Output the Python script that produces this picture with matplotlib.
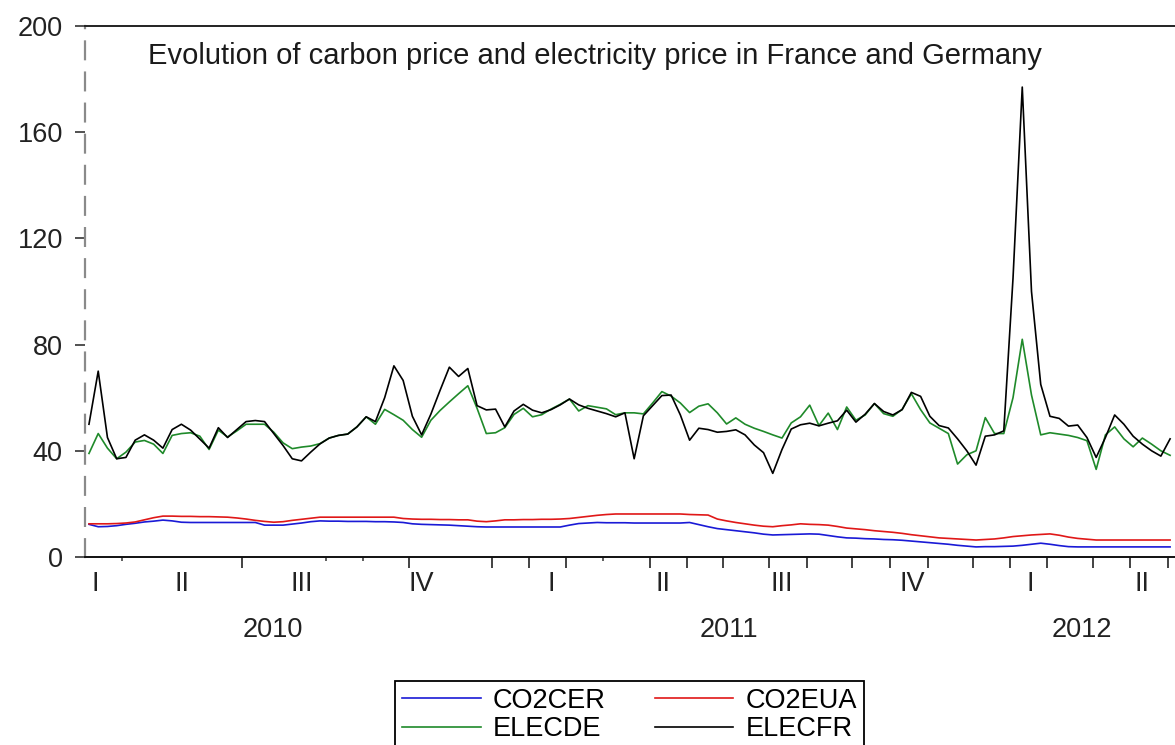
import numpy as np
import matplotlib
matplotlib.use("Agg")
import matplotlib.pyplot as plt

plt.rcParams['font.family'] = ['Liberation Sans', 'DejaVu Sans']

# weekly prices (Jan 2010 - Apr 2012)
elecfr = [50, 70, 45, 37, 37.5, 44, 46, 44, 41, 48,
          50, 47.8, 44.4, 41, 48.7, 45, 48, 51, 51.4, 51,
          46.5, 42, 37, 36.2, 39.5, 42.6, 44.8, 45.8, 46.3, 49,
          52.8, 51, 60, 72, 66.5, 53, 46, 53.8, 62.8, 71.5,
          68, 71, 57, 55.4, 55.7, 49, 55, 57.5, 55.3, 54.3,
          55.5, 57.3, 59.5, 57.3, 56, 55, 54, 52.8, 54.3, 37,
          53.2, 57, 60.8, 61, 53.5, 44, 48.5, 48, 47, 47.3,
          47.9, 46, 42.2, 39.3, 31.5, 40.5, 48.2, 49.8, 50.4, 49.4,
          50.4, 51.3, 55.3, 50.8, 53.8, 57.8, 54.8, 53.5, 55.5, 62,
          60.5, 53, 49.5, 48.6, 44.5, 40, 34.6, 45.5, 46, 47.5,
          105, 177, 100, 65, 53, 52.2, 49.3, 49.7, 45, 37.5,
          45, 53.5, 50, 45.5, 42.5, 40, 38, 44.5]

elecde = [39, 46.5, 41, 37, 39.5, 43.3, 43.9, 42.5, 39, 45.8,
          46.5, 46.8, 45.5, 40.5, 47.8, 45.2, 47.5, 50, 50, 50,
          47, 43, 40.8, 41.4, 41.8, 42.7, 44.8, 45.8, 46.3, 49,
          52.8, 50, 55.6, 53.6, 51.5, 48, 45.1, 51.5, 55.2, 58.4,
          61.5, 64.5, 56, 46.5, 46.8, 48.7, 53.7, 56, 52.8, 53.6,
          55.7, 57.5, 59.5, 55, 57, 56.4, 55.8, 53.6, 54.3, 54.3,
          53.9, 58, 62.3, 60.6, 58, 54.4, 56.8, 57.7, 54.3, 50.1,
          52.4, 50, 48.5, 47.3, 46, 44.8, 50.5, 52.8, 57.2, 49.5,
          54.2, 48, 56.5, 51.5, 53.5, 57.8, 54, 53, 55.6, 61.5,
          55.5, 50.5, 48.5, 46.5, 35, 38.5, 40, 52.5, 46.5, 46.5,
          60, 82, 61, 46, 46.8, 46.3, 45.8, 45, 43.8, 33,
          46, 49, 44.5, 41.5, 44.8, 42.5, 40, 38.3]

co2eua = [12.5, 12.5, 12.5, 12.6, 12.8, 13.2, 14, 14.8, 15.4, 15.4,
          15.3, 15.3, 15.2, 15.2, 15.1, 15, 14.7, 14.3, 13.8, 13.4,
          13.1, 13.3, 13.8, 14.2, 14.6, 15, 15, 15, 15, 15,
          15, 15, 15, 15, 14.5, 14.3, 14.2, 14.2, 14.1, 14.1,
          14, 14, 13.5, 13.3, 13.6, 14, 14, 14.1, 14.1, 14.2,
          14.2, 14.3, 14.5, 14.9, 15.3, 15.7, 16, 16.2, 16.2, 16.2,
          16.2, 16.2, 16.2, 16.2, 16.2, 16, 15.9, 15.8, 14.3, 13.6,
          13, 12.5, 12, 11.6, 11.4, 11.8, 12.1, 12.5, 12.3, 12.2,
          12, 11.5, 10.9, 10.6, 10.3, 9.9, 9.6, 9.3, 8.9, 8.4,
          8, 7.6, 7.2, 7, 6.8, 6.6, 6.4, 6.6, 6.8, 7.2,
          7.7, 8, 8.3, 8.5, 8.7, 8.2, 7.5, 7, 6.7, 6.4,
          6.4, 6.4, 6.4, 6.4, 6.4, 6.4, 6.4, 6.4]

co2cer = [12.3, 11.4, 11.5, 11.8, 12.3, 12.7, 13.2, 13.5, 13.9, 13.6,
          13.1, 13, 13, 13, 13, 13, 13, 13, 13, 12,
          12, 12, 12.4, 12.8, 13.3, 13.6, 13.5, 13.5, 13.4, 13.4,
          13.4, 13.3, 13.3, 13.2, 13, 12.5, 12.3, 12.2, 12.1, 12,
          11.8, 11.6, 11.4, 11.3, 11.3, 11.3, 11.3, 11.3, 11.3, 11.3,
          11.3, 11.3, 12, 12.6, 12.8, 13, 12.9, 12.9, 12.9, 12.8,
          12.8, 12.8, 12.8, 12.8, 12.8, 13, 12.2, 11.4, 10.7, 10.3,
          9.9, 9.5, 9.1, 8.6, 8.3, 8.4, 8.5, 8.6, 8.7, 8.6,
          8.1, 7.6, 7.2, 7.1, 6.9, 6.8, 6.6, 6.5, 6.3, 6,
          5.7, 5.4, 5.1, 4.8, 4.4, 4.1, 3.8, 3.9, 3.9, 4,
          4.1, 4.4, 4.8, 5.2, 4.8, 4.3, 3.9, 3.8, 3.8, 3.8,
          3.8, 3.8, 3.8, 3.8, 3.8, 3.8, 3.8, 3.8]

quarter_labels = ["I", "II", "III", "IV", "I", "II", "III", "IV", "I", "II"]
year_labels = ["2010", "2011", "2012"]

# label / tick positions in week units
quarter_pos = [0.65, 10.06, 23.05, 35.93, 50.0, 62.12, 75.0, 89.07, 101.9, 113.96]
year_pos = [19.9, 69.3, 107.4]
major_ticks = [16.56, 34.63, 43.61, 47.62, 51.62, 60.71, 64.72, 68.61, 73.59, 77.71,
               82.58, 86.69, 90.8, 95.67, 99.68, 103.68, 108.66, 112.66, 116.77]
minor_ticks = [3.57, 25.65, 29.65, 55.63]

weeks = np.arange(len(elecfr))

fig = plt.figure(figsize=(11.75, 7.45), dpi=100)
ax = fig.add_axes([85 / 1175, 1 - 557 / 745, 1 - 85 / 1175 + 0.01, (557 - 26) / 745])

l_cer, = ax.plot(weeks, co2cer, color='#1a1ad6', lw=1.2)
l_eua, = ax.plot(weeks, co2eua, color='#e01818', lw=1.2)
l_de, = ax.plot(weeks, elecde, color='#1f8a2a', lw=1.2)
l_fr, = ax.plot(weeks, elecfr, color='black', lw=1.2)

ax.set_xlim(-0.43, 117.53 + 0.01 * 1175 / 9.24)
ax.set_ylim(0, 200)

ax.spines['right'].set_visible(False)
ax.spines['left'].set_color('#8a8a8a')
ax.spines['left'].set_linewidth(1.6)
ax.spines['left'].set_linestyle((0, (8, 6)))
ax.spines['top'].set_linewidth(1.4)
ax.spines['top'].set_color('#222222')
ax.spines['bottom'].set_linewidth(1.4)
ax.spines['bottom'].set_color('#111111')

ax.set_yticks([0, 40, 80, 120, 160, 200])
ax.tick_params(axis='y', direction='out', length=7, width=1.2, pad=9,
               labelsize=19.5, labelcolor='#222222', color='#333333')

ax.set_xticks(major_ticks)
ax.set_xticks(minor_ticks, minor=True)
ax.set_xticklabels([])
ax.tick_params(axis='x', which='major', direction='out', length=8, width=1.2, color='#222222')
ax.tick_params(axis='x', which='minor', direction='out', length=3, width=1.2, color='#444444')

for q, xq in zip(quarter_labels, quarter_pos):
    ax.text(xq, -0.05, q, transform=ax.get_xaxis_transform(), ha='center', va='center',
            fontsize=19.5, color='#222222')
for yl, xy in zip(year_labels, year_pos):
    ax.text(xy, -0.1375, yl, transform=ax.get_xaxis_transform(), ha='center', va='center',
            fontsize=19.5, color='#222222')

ax.text(62 / 1090, 1 - 30 / 531,
        "Evolution of carbon price and electricity price in France and Germany",
        transform=ax.transAxes, ha='left', va='center', fontsize=21, color='#1a1a1a')

leg = fig.legend([l_cer, l_de, l_eua, l_fr], ["CO2CER", "ELECDE", "CO2EUA", "ELECFR"],
                 ncol=2, loc='upper center', bbox_to_anchor=(629.5 / 1175, 1 - 681 / 745),
                 fontsize=19.5, frameon=True, fancybox=False, edgecolor='black',
                 framealpha=1, borderaxespad=0, borderpad=0.25, labelspacing=0.1,
                 handlelength=2.9, handletextpad=0.45, columnspacing=1.8)
leg.get_frame().set_linewidth(1.3)

fig.savefig("out.png", dpi=100)
